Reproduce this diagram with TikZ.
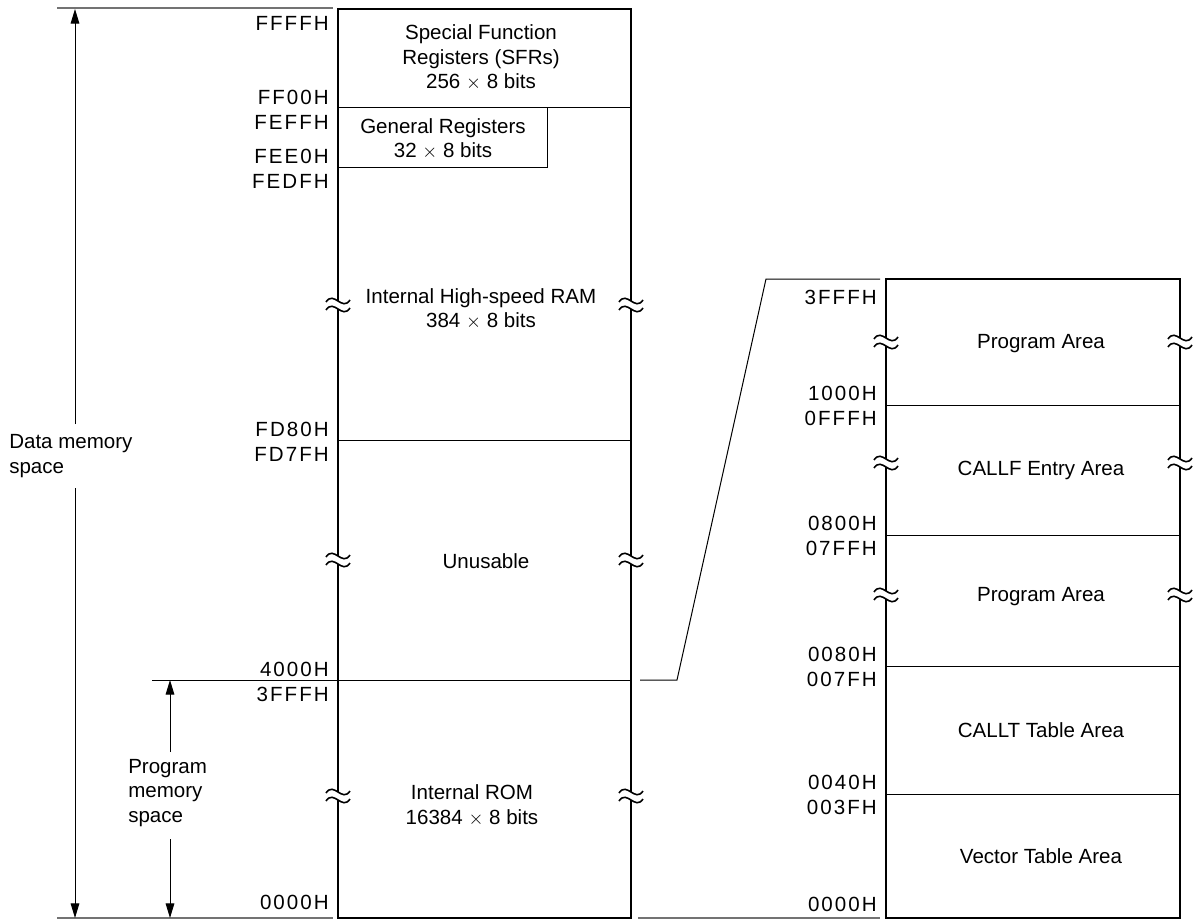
\documentclass[tikz,border=0pt]{standalone}
\usepackage{fontspec}
\setmainfont{Liberation Sans}
\newfontfamily\hexf[LetterSpace=10]{Liberation Sans}
\usetikzlibrary{arrows.meta}
\begin{document}
\begin{tikzpicture}[x=0.75pt,y=-0.75pt,
  font=\fontsize{15.4}{18.5}\selectfont,
  thickbox/.style={line width=1.9pt},
  thinline/.style={line width=0.75pt},
  grayline/.style={line width=0.8pt, draw=black!55},
  hexlbl/.style={anchor=east, inner sep=0pt, font=\fontsize{15.4}{18.5}\selectfont\hexf},
  txt/.style={inner sep=0pt, align=center},
  ltxt/.style={inner sep=0pt, align=left, anchor=west},
  dimarrow/.style={line width=0.7pt, -{Triangle[length=11pt,width=6.5pt]}},
  brk/.pic={
    \fill[white] (-3,-4) rectangle (3,4);
    \draw[line width=1.2pt] (-12,-3) .. controls (-4,-15) and (4,7) .. (12,-5);
    \draw[line width=1.2pt] (-12,5) .. controls (-4,-7) and (4,15) .. (12,3);
  }]
\useasboundingbox (0,0) rectangle (1193,920);

% ---------- main memory map ----------
\draw[grayline] (57,8) -- (333,8);
\draw[grayline] (57,918) -- (333,918);
\draw[thinline] (338,108) -- (631,108);
\draw[thinline] (338,168) -| (547,108);
\draw[thinline] (338,440) -- (631,440);
\draw[thinline] (152,680) -- (631,680);
\draw[thickbox] (338,9) rectangle (631,918);

\pic at (338,305) {brk}; \pic at (631,305) {brk};
\pic at (338,560) {brk}; \pic at (631,560) {brk};
\pic at (338,796) {brk}; \pic at (631,796) {brk};

\node[hexlbl] (a1) at (329,23) {FFFFH};
\node[hexlbl] (a2) at (329,97.5) {FF00H};
\node[hexlbl] (a3) at (329,122.5) {FEFFH};
\node[hexlbl] (a4) at (329,156) {FEE0H};
\node[hexlbl] (a5) at (329,181) {FEDFH};
\node[hexlbl] (a6) at (329,429) {FD80H};
\node[hexlbl] (a7) at (329,454) {FD7FH};
\node[hexlbl] (a8) at (329,669) {4000H};
\node[hexlbl] (a9) at (329,694) {3FFFH};
\node[hexlbl] (a10) at (329,902) {0000H};

\node[txt] (sfr) at (481,57.5) {Special Function\\Registers (SFRs)\\256 $\times$ 8 bits};
\node[txt] (gr) at (443,139) {General Registers\\32 $\times$ 8 bits};
\node[txt] (ram) at (481,309) {Internal High-speed RAM\\384 $\times$ 8 bits};
\node[txt] (unu) at (486,561) {Unusable};
\node[txt] (rom) at (472,805.5) {Internal ROM\\16384 $\times$ 8 bits};

% ---------- space arrows ----------
\node[ltxt] (dms) at (9,456) {Data memory\\space};
\node[ltxt] (pms) at (128,793) {Program\\memory\\space};
\coordinate (d1) at (75,424); \coordinate (d0) at (75,9);
\coordinate (d2) at (75,488); \coordinate (d3) at (75,918);
\draw[dimarrow] (d1) -- (d0);
\draw[dimarrow] (d2) -- (d3);
\coordinate (p1) at (170,752); \coordinate (p0) at (170,680);
\coordinate (p2) at (170,839); \coordinate (p3) at (170,918);
\draw[dimarrow] (p1) -- (p0);
\draw[dimarrow] (p2) -- (p3);

% ---------- zoom lines ----------
\coordinate (z0) at (640,680); \coordinate (z1) at (677,680);
\coordinate (z2) at (766,279); \coordinate (z3) at (880,279);
\draw[thinline] (z0) -- (z1) -- (z2) -- (z3);
\draw[grayline] (638,918) -- (880,918);

% ---------- ROM detail ----------
\draw[thinline] (886,405) -- (1180,405);
\draw[thinline] (886,535) -- (1180,535);
\draw[thinline] (886,666) -- (1180,666);
\draw[thinline] (886,794) -- (1180,794);
\draw[thickbox] (886,279) rectangle (1180,918);

\pic at (886,342) {brk}; \pic at (1180,342) {brk};
\pic at (886,463) {brk}; \pic at (1180,463) {brk};
\pic at (886,595) {brk}; \pic at (1180,595) {brk};

\node[hexlbl] (b1) at (877,297) {3FFFH};
\node[hexlbl] (b2) at (877,393) {1000H};
\node[hexlbl] (b3) at (877,418) {0FFFH};
\node[hexlbl] (b4) at (877,523) {0800H};
\node[hexlbl] (b5) at (877,548) {07FFH};
\node[hexlbl] (b6) at (877,654) {0080H};
\node[hexlbl] (b7) at (877,679) {007FH};
\node[hexlbl] (b8) at (877,782) {0040H};
\node[hexlbl] (b9) at (877,807) {003FH};
\node[hexlbl] (b10) at (877,904) {0000H};

\node[txt] (pa1) at (1041,344) {Program Area};
\node[txt] (cf) at (1041,470) {CALLF Entry Area};
\node[txt] (pa2) at (1041,597) {Program Area};
\node[txt] (ct) at (1041,730) {CALLT Table Area};
\node[txt] (vt) at (1041,856) {Vector Table Area};
\end{tikzpicture}
\end{document}
